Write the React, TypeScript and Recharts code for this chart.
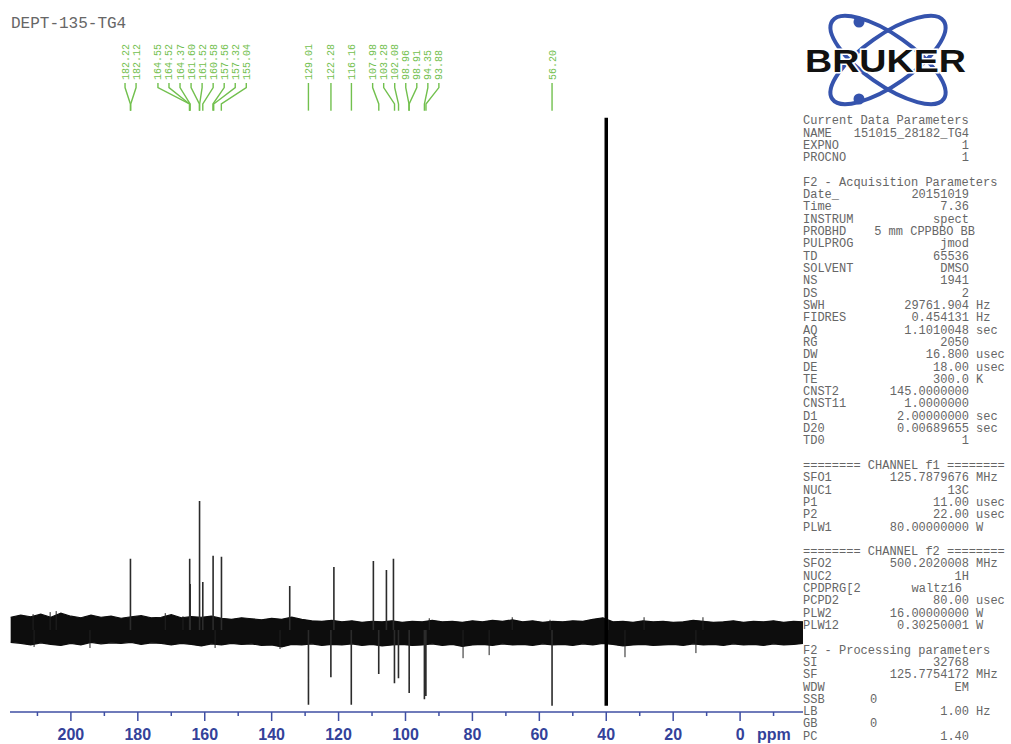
import React from 'react';
import { ComposedChart, Line, Area, XAxis, YAxis } from 'recharts';

// ---------- data ----------
const X_TICKS = [210, 200, 190, 180, 170, 160, 150, 140, 130, 120, 110, 100, 90, 80, 70, 60, 50, 40, 30, 20, 10, 0, -10];

// signal lines: chemical shift (ppm) and intensity (solvent = 100)
const PEAK_PPM = [182.2, 164.5, 164.35, 161.55, 160.58, 157.5, 155.0, 134.6, 129.0, 122.3, 121.4, 116.2, 109.6, 108.0, 105.7, 103.6, 103.3, 102.1, 98.9, 94.35, 93.9, 56.2];
const PEAK_INT = [13.9, 13.9, 9.0, 25.2, 9.4, 14.5, 14.3, 8.6, -14.6, -9.2, 12.3, -14.6, 13.5, -8.6, 11.7, 13.9, -10.4, -9.4, -12.3, -13.5, -12.9, -14.8];

// DMSO solvent line
const SOLVENT_PPM = 40.0;
const SOLVENT_TOP = 100;
const SOLVENT_BOTTOM = -14.8;
const SOLVENT_SIDE_PPM = 39.6;
const SOLVENT_SIDE_INT = 9.8;

// noise band envelope
const NOISE_PPM = [218, 215, 212, 209, 206, 203, 200, 197, 194, 191, 188, 185, 182, 179, 176, 173, 170, 167, 164, 161, 158, 155, 152, 149, 146, 143, 140, 137, 134, 131, 128, 125, 122, 119, 116, 113, 110, 107, 104, 101, 98, 95, 92, 89, 86, 83, 80, 77, 74, 71, 68, 65, 62, 59, 56, 53, 50, 47, 44, 41, 38, 35, 32, 29, 26, 23, 20, 17, 14, 11, 8, 5, 2, -1, -4, -7, -10, -13, -16, -19];
const NOISE_HIGH = [2.5, 2.9, 2.6, 3.1, 2.5, 3.3, 2.7, 2.4, 2.9, 2.5, 2.7, 2.3, 2.6, 2.8, 2.4, 2.5, 3.0, 2.4, 2.6, 2.5, 2.7, 2.3, 2.1, 2.4, 2.2, 2.0, 2.3, 2.1, 2.5, 2.1, 1.8, 1.7, 1.9, 1.6, 1.8, 1.5, 1.7, 1.6, 1.8, 1.5, 1.7, 1.6, 1.9, 1.6, 1.7, 1.5, 1.8, 1.6, 1.9, 1.7, 2.0, 1.6, 1.8, 1.5, 1.7, 1.6, 1.8, 1.7, 2.1, 2.4, 1.6, 1.7, 1.5, 1.8, 1.6, 1.7, 1.5, 1.6, 1.9, 1.7, 1.5, 1.6, 1.8, 1.5, 1.7, 1.6, 1.8, 1.5, 1.7, 1.6];
const NOISE_LOW = [-2.4, -2.6, -2.9, -2.5, -2.8, -3.0, -2.6, -2.9, -2.4, -2.7, -2.5, -2.6, -2.4, -2.8, -2.5, -2.6, -2.9, -2.6, -2.8, -3.1, -2.7, -2.9, -2.6, -2.8, -2.7, -3.0, -2.9, -3.3, -2.8, -2.9, -2.7, -3.0, -2.8, -2.9, -2.7, -3.0, -2.8, -3.1, -2.9, -2.8, -3.0, -2.9, -2.7, -3.0, -2.8, -3.2, -2.9, -2.8, -3.0, -2.7, -2.9, -2.8, -3.0, -2.7, -2.9, -2.8, -3.0, -2.7, -2.9, -2.6, -2.8, -3.1, -2.9, -2.8, -3.0, -2.9, -2.8, -3.0, -2.7, -2.9, -2.8, -3.0, -2.7, -2.9, -2.8, -3.0, -2.7, -2.9, -2.8, -2.6];

// isolated noise spikes poking out of the band
const SPIKE_PPM = [211.3, 206.2, 204.4, 171.8, 166.5, 92.9, 68.1, 56.8, 28.7, 11.1, 211.0, 194.3, 156.9, 137.5, 82.8, 75.0, 34.4, 13.2];
const SPIKE_INT = [3.1, 3.5, 3.7, 3.3, 2.7, 2.3, 2.5, 2.0, 2.5, 2.5, -3.3, -3.5, -3.5, -3.7, -5.5, -4.9, -5.3, -4.5];

// peak labels (ppm)
const LABEL_VALUES = [182.22, 182.12, 164.55, 164.52, 164.37, 161.60, 161.52, 160.58, 157.56, 157.32, 155.04, 129.01, 122.28, 116.16, 107.98, 103.28, 102.08, 98.96, 98.91, 94.35, 93.88, 56.20];

// acquisition / processing parameter panel
const HEAD_CURRENT = 'Current Data Parameters';
const ROWS_CURRENT: string[][] = [
  ['NAME', '151015_28182_TG4', ''],
  ['EXPNO', '1', ''],
  ['PROCNO', '1', ''],
];
const HEAD_ACQ = 'F2 - Acquisition Parameters';
const ROWS_ACQ: string[][] = [
  ['Date_', '20151019', ''],
  ['Time', '7.36', ''],
  ['INSTRUM', 'spect', ''],
  ['PROBHD', '5 mm CPPBBO BB', ''],
  ['PULPROG', 'jmod', ''],
  ['TD', '65536', ''],
  ['SOLVENT', 'DMSO', ''],
  ['NS', '1941', ''],
  ['DS', '2', ''],
  ['SWH', '29761.904', 'Hz'],
  ['FIDRES', '0.454131', 'Hz'],
  ['AQ', '1.1010048', 'sec'],
  ['RG', '2050', ''],
  ['DW', '16.800', 'usec'],
  ['DE', '18.00', 'usec'],
  ['TE', '300.0', 'K'],
  ['CNST2', '145.0000000', ''],
  ['CNST11', '1.0000000', ''],
  ['D1', '2.00000000', 'sec'],
  ['D20', '0.00689655', 'sec'],
  ['TD0', '1', ''],
];
const HEAD_F1 = '======== CHANNEL f1 ========';
const ROWS_F1: string[][] = [
  ['SFO1', '125.7879676', 'MHz'],
  ['NUC1', '13C', ''],
  ['P1', '11.00', 'usec'],
  ['P2', '22.00', 'usec'],
  ['PLW1', '80.00000000', 'W'],
];
const HEAD_F2 = '======== CHANNEL f2 ========';
const ROWS_F2: string[][] = [
  ['SFO2', '500.2020008', 'MHz'],
  ['NUC2', '1H', ''],
  ['CPDPRG[2', 'waltz16', ''],
  ['PCPD2', '80.00', 'usec'],
  ['PLW2', '16.00000000', 'W'],
  ['PLW12', '0.30250001', 'W'],
];
const HEAD_PROC = 'F2 - Processing parameters';
const ROWS_PROC: string[][] = [
  ['SI', '32768', ''],
  ['SF', '125.7754172', 'MHz'],
  ['WDW', 'EM', ''],
  ['SSB', '0', ''],
  ['LB', '1.00', 'Hz'],
  ['GB', '0', ''],
  ['PC', '1.40', ''],
];

const TITLE = 'DEPT-135-TG4';

// ---------- styling / layout ----------
const W = 1011;
const H = 744;
const AXIS_BLUE = '#3f4fa3';
const LABEL_BLUE = '#33429a';
const GREEN = '#72c04e';
const TEXT_GRAY = '#666';
const MONO = '"Liberation Mono", "DejaVu Sans Mono", monospace';
const SANS = '"Liberation Sans", Arial, sans-serif';

const LABEL_GAP = 3.3; // ppm between neighbouring labels
const CONN_Y = [106.8, 105.9, 102.7, 101.4];

function mean(a: number[]) {
  return a.reduce((s, v) => s + v, 0) / a.length;
}

function layoutLabels(values: number[]) {
  const sorted = [...values].sort((a, b) => b - a);
  let clusters: number[][] = sorted.map((v) => [v]);
  let merged = true;
  while (merged) {
    merged = false;
    for (let i = 0; i < clusters.length - 1; i++) {
      const a = clusters[i];
      const b = clusters[i + 1];
      const aRight = mean(a) - ((a.length - 1) / 2) * LABEL_GAP;
      const bLeft = mean(b) + ((b.length - 1) / 2) * LABEL_GAP;
      if (aRight - bLeft < LABEL_GAP - 1e-9) {
        clusters.splice(i, 2, [...a, ...b]);
        merged = true;
        break;
      }
    }
  }
  const out: { value: number; pos: number }[] = [];
  clusters.forEach((c) => {
    const center = mean(c);
    const n = c.length;
    c.forEach((v, k) => out.push({ value: v, pos: center + ((n - 1) / 2 - k) * LABEL_GAP }));
  });
  return out;
}

// each stick: baseline -> tip, then a gap (null) so sticks are not joined
const peakData: { x: number; y: number | null }[] = [];
PEAK_PPM.forEach((p, i) => {
  peakData.push({ x: p, y: 0 }, { x: p, y: PEAK_INT[i] }, { x: p, y: null });
});
const spikeData: { x: number; y: number | null }[] = [];
SPIKE_PPM.forEach((p, i) => {
  spikeData.push({ x: p, y: 0 }, { x: p, y: SPIKE_INT[i] }, { x: p, y: null });
});
const solventData = [
  { x: SOLVENT_PPM, y: SOLVENT_BOTTOM },
  { x: SOLVENT_PPM, y: SOLVENT_TOP },
];
const solventSide = [
  { x: SOLVENT_SIDE_PPM, y: 0 },
  { x: SOLVENT_SIDE_PPM, y: SOLVENT_SIDE_INT },
];
const noiseData = NOISE_PPM.map((p, i) => ({ x: p, range: [NOISE_LOW[i], NOISE_HIGH[i]] }));
const labelLayout = layoutLabels(LABEL_VALUES);

const AxisTick = (props: any) => {
  const { x, y, payload } = props;
  const v = payload.value;
  const major = v % 20 === 0;
  return (
    <g>
      <line x1={x} x2={x} y1={y} y2={y + (major ? 9 : 4)} stroke={AXIS_BLUE} strokeWidth={1.5} />
      {major && (
        <text x={x} y={y + 28} textAnchor="middle" fontFamily={SANS} fontWeight={700} fontSize={16} fill={LABEL_BLUE}>
          {v}
        </text>
      )}
    </g>
  );
};

const LINE_H = 12.31;
const PANEL_X = 803;
const VALUE_END = 969;
const UNIT_X = 976;

function Panel() {
  const items: React.ReactNode[] = [];
  let line = 0;
  const head = (t: string) => {
    items.push(
      <text key={'h' + line} x={PANEL_X} y={124.3 + line * LINE_H}>{t}</text>
    );
    line++;
  };
  const rows = (rs: string[][]) => {
    rs.forEach((r) => {
      const y = 124.3 + line * LINE_H;
      let vx = VALUE_END;
      let anchor: 'end' | 'start' = 'end';
      if (r[0] === 'PROBHD') vx = 975;
      if (r[0] === 'CPDPRG[2') vx = 962;
      if (r[0] === 'SSB' || r[0] === 'GB') {
        vx = 870;
        anchor = 'start';
      }
      items.push(
        <g key={'r' + line}>
          <text x={PANEL_X} y={y}>{r[0]}</text>
          <text x={vx} y={y} textAnchor={anchor}>{r[1]}</text>
          {r[2] && <text x={UNIT_X} y={y}>{r[2]}</text>}
        </g>
      );
      line++;
    });
  };
  head(HEAD_CURRENT);
  rows(ROWS_CURRENT);
  line++;
  head(HEAD_ACQ);
  rows(ROWS_ACQ);
  line++;
  head(HEAD_F1);
  rows(ROWS_F1);
  line++;
  head(HEAD_F2);
  rows(ROWS_F2);
  line++;
  head(HEAD_PROC);
  rows(ROWS_PROC);
  return (
    <g fontFamily={MONO} fontSize={12} fill={TEXT_GRAY}>
      {items}
    </g>
  );
}

function Logo() {
  const cx = 888;
  const cy = 60;
  return (
    <g>
      <ellipse cx={cx} cy={cy} rx={68} ry={25} fill="none" stroke="#3553ad" strokeWidth={4} transform={`rotate(35 ${cx} ${cy})`} />
      <ellipse cx={cx} cy={cy} rx={68} ry={25} fill="none" stroke="#3553ad" strokeWidth={4} transform={`rotate(-35 ${cx} ${cy})`} />
      <circle cx={859} cy={22} r={5.5} fill="#3553ad" />
      <circle cx={859} cy={99} r={5.5} fill="#3553ad" />
      <text
        x={805}
        y={72}
        textLength={161}
        lengthAdjust="spacingAndGlyphs"
        fontFamily={SANS}
        fontWeight={900}
        fontSize={32}
        fill="#111"
        stroke="#fff"
        strokeWidth={3}
        style={{ paintOrder: 'stroke' }}
      >
        BRUKER
      </text>
    </g>
  );
}

export default function App() {
  return (
    <div style={{ position: 'absolute', left: 0, top: 0, width: W, height: H, background: '#fff', overflow: 'hidden' }}>
      <ComposedChart width={W} height={H} margin={{ top: 0, right: W - 803, bottom: 0, left: 10 }}>
        <XAxis
          type="number"
          dataKey="x"
          domain={[-18.8, 218.2]}
          allowDataOverflow
          reversed
          ticks={X_TICKS}
          interval={0}
          height={32}
          tickSize={0}
          tickMargin={0}
          tickLine={false}
          axisLine={{ stroke: AXIS_BLUE, strokeWidth: 1.6 }}
          tick={<AxisTick />}
        />
        <YAxis type="number" domain={[-16, 123]} allowDataOverflow hide />
        <Area
          data={noiseData}
          dataKey="range"
          type="linear"
          stroke="#0d0d0d"
          strokeWidth={1.2}
          fill="#0d0d0d"
          fillOpacity={1}
          dot={false}
          activeDot={false}
          isAnimationActive={false}
        />
        <Line data={spikeData} dataKey="y" type="linear" stroke="#222" strokeWidth={1} dot={false} activeDot={false} connectNulls={false} isAnimationActive={false} />
        <Line data={peakData} dataKey="y" type="linear" stroke="#2b2b2b" strokeWidth={1.6} dot={false} activeDot={false} connectNulls={false} isAnimationActive={false} />
        <Line data={solventSide} dataKey="y" type="linear" stroke="#555" strokeWidth={1.2} dot={false} activeDot={false} isAnimationActive={false} />
        <Line data={solventData} dataKey="y" type="linear" stroke="#000" strokeWidth={3.5} dot={false} activeDot={false} isAnimationActive={false} />
        {labelLayout.map((l, i) => {
          const conn = [
            { x: l.pos, y: CONN_Y[0] },
            { x: l.pos, y: CONN_Y[1] },
            { x: l.value, y: CONN_Y[2] },
            { x: l.value, y: CONN_Y[3] },
          ];
          const txt = l.value.toFixed(2);
          return (
            <Line
              key={'lbl' + i}
              data={conn}
              dataKey="y"
              type="linear"
              stroke={GREEN}
              strokeWidth={1.4}
              activeDot={false}
              isAnimationActive={false}
              dot={(p: any) =>
                p.index === 0 ? (
                  <text
                    key={'t' + i}
                    transform={`translate(${p.cx + 3.5},${p.cy - 3}) rotate(-90)`}
                    fontFamily={MONO}
                    fontSize={10}
                    fill={GREEN}
                    textAnchor="start"
                  >
                    {txt}
                  </text>
                ) : (
                  <g key={'d' + i + '-' + p.index} />
                )
              }
            />
          );
        })}
      </ComposedChart>
      <svg width={W} height={H} style={{ position: 'absolute', left: 0, top: 0, pointerEvents: 'none' }}>
        <text x={11} y={28} fontFamily={MONO} fontSize={16} fill={TEXT_GRAY}>
          {TITLE}
        </text>
        <Logo />
        <Panel />
        <text x={757} y={740} fontFamily={SANS} fontWeight={700} fontSize={16} fill={LABEL_BLUE}>
          ppm
        </text>
      </svg>
    </div>
  );
}
